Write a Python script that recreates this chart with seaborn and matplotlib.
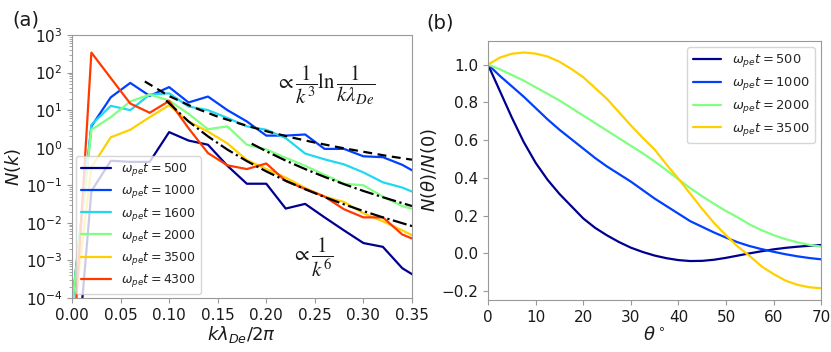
import numpy as np
import matplotlib
matplotlib.use("Agg")
import matplotlib.pyplot as plt
import seaborn as sns

# ---- panel (a): spectra N(k) ----
k = [0.00, 0.02, 0.04, 0.06, 0.08, 0.10, 0.12, 0.14, 0.16, 0.18,
     0.20, 0.22, 0.24, 0.26, 0.28, 0.30, 0.32, 0.34, 0.36]
N500 = [5e-8, 0.07, 0.45, 0.42, 0.42, 2.6, 1.55, 1.2, 0.33, 0.11,
        0.11, 0.024, 0.032, 0.014, 0.0063, 0.0029, 0.0023, 0.00062, 0.0003]
N1000 = [6e-5, 3.7, 22, 53, 24, 41, 16, 23, 10, 5.0,
         2.1, 2.1, 2.25, 0.93, 0.93, 0.59, 0.56, 0.35, 0.18]
N1600 = [5e-5, 4.1, 13, 10, 26, 28, 12.5, 10, 6.2, 3.7,
         3.0, 1.8, 0.7, 0.49, 0.36, 0.22, 0.12, 0.087, 0.053]
N2000 = [6e-5, 3.0, 6.5, 17, 26, 18, 8, 3.1, 3.7, 1.2,
         0.9, 0.54, 0.33, 0.19, 0.11, 0.10, 0.05, 0.028, 0.02]
N3500 = [1.4e-5, 0.3, 1.9, 3.0, 6.5, 13.5, 5.0, 2.7, 1.3, 0.47,
         0.27, 0.16, 0.085, 0.05, 0.036, 0.018, 0.011, 0.0063, 0.0035]
N4300 = [1e-6, 340, 71, 15, 8.5, 17.5, 3.3, 0.72, 0.34, 0.27,
         0.38, 0.13, 0.08, 0.05, 0.023, 0.014, 0.014, 0.0049, 0.003]
times_a = [500, 1000, 1600, 2000, 3500, 4300]

# guide lines
k_log = [0.075, 0.10, 0.125, 0.15, 0.175, 0.20, 0.225, 0.25, 0.275, 0.30, 0.325, 0.35]
N_log = [58, 23.7, 11.9, 6.7, 4.2, 2.75, 1.9, 1.37, 1.02, 0.78, 0.60, 0.48]
k_k6a = [0.097, 0.12, 0.14, 0.16, 0.18, 0.20, 0.22, 0.24, 0.26, 0.28, 0.30, 0.32, 0.35]
N_k6a = [18.0, 5.0, 2.0, 0.89, 0.44, 0.234, 0.132, 0.0785, 0.0486, 0.0311, 0.0206, 0.014, 0.0082]
k_k6b = [0.185, 0.20, 0.22, 0.24, 0.26, 0.28, 0.30, 0.32, 0.35]
N_k6b = [1.28, 0.805, 0.454, 0.27, 0.167, 0.107, 0.0706, 0.048, 0.028]

# ---- panel (b): angular distribution ----
theta = [0, 2.5, 5, 7.5, 10, 12.5, 15, 17.5, 20, 22.5, 25, 27.5, 30, 32.5, 35,
         37.5, 40, 42.5, 45, 47.5, 50, 52.5, 55, 57.5, 60, 62.5, 65, 67.5, 70]
A500 = [1.0, 0.86, 0.72, 0.59, 0.48, 0.39, 0.315, 0.25, 0.185, 0.135, 0.095, 0.06, 0.03, 0.007, -0.012,
        -0.026, -0.036, -0.041, -0.040, -0.034, -0.024, -0.012, 0.0, 0.011, 0.021, 0.029, 0.035, 0.040, 0.044]
A1000 = [1.0, 0.94, 0.885, 0.83, 0.77, 0.71, 0.655, 0.605, 0.555, 0.505, 0.46, 0.42, 0.38, 0.335, 0.29,
         0.25, 0.21, 0.17, 0.14, 0.11, 0.083, 0.058, 0.038, 0.022, 0.008, -0.005, -0.016, -0.025, -0.032]
A2000 = [1.0, 0.975, 0.945, 0.915, 0.88, 0.845, 0.81, 0.77, 0.73, 0.69, 0.65, 0.61, 0.57, 0.53, 0.487,
         0.44, 0.392, 0.345, 0.302, 0.262, 0.224, 0.19, 0.152, 0.122, 0.096, 0.075, 0.058, 0.045, 0.035]
A3500 = [1.0, 1.037, 1.057, 1.064, 1.058, 1.043, 1.015, 0.977, 0.933, 0.876, 0.818, 0.748, 0.678, 0.612, 0.55,
         0.47, 0.395, 0.315, 0.235, 0.16, 0.095, 0.035, -0.015, -0.07, -0.11, -0.145, -0.167, -0.18, -0.185]
times_b = [500, 1000, 2000, 3500]

colors = {500: '#000090', 1000: '#0040ff', 1600: '#20d8f0',
          2000: '#80ff80', 3500: '#ffd000', 4300: '#ff3a00'}

sns.set_style("ticks")
plt.rcParams.update({
    'axes.edgecolor': '0.6',
    'xtick.color': '0.6', 'ytick.color': '0.6',
    'xtick.labelcolor': '0.1', 'ytick.labelcolor': '0.1',
    'axes.labelcolor': '0.1',
})
plt.rcParams['font.family'] = ['DejaVu Sans']

fig = plt.figure(figsize=(8.31, 3.52), dpi=100)
ax1 = fig.add_axes([0.0866, 0.1534, 0.4092, 0.7472])
ax2 = fig.add_axes([0.5872, 0.1477, 0.4011, 0.7367])

# (a)
series_a = [N500, N1000, N1600, N2000, N3500, N4300]
for t, N in zip(times_a, series_a):
    sns.lineplot(x=k, y=N, ax=ax1, color=colors[t], lw=1.6,
                 label=r'$\omega_{pe}t = %d$' % t)
sns.lineplot(x=k_log, y=N_log, ax=ax1, color='k', lw=1.6, linestyle=(0, (4, 2.5)))
sns.lineplot(x=k_k6a, y=N_k6a, ax=ax1, color='k', lw=1.6, linestyle='-.')
sns.lineplot(x=k_k6b, y=N_k6b, ax=ax1, color='k', lw=1.6, linestyle='-.')
ax1.set_yscale('log')
ax1.set_xlim(0, 0.35)
ax1.set_ylim(1e-4, 1e3)
ax1.set_xticks(np.arange(0, 0.351, 0.05))
ax1.tick_params(labelsize=11)
ax1.set_xlabel(r'$k\lambda_{De}/2\pi$', fontsize=13, labelpad=1)
ax1.set_ylabel(r'$N(k)$', fontsize=13, labelpad=2)
ax1.legend(loc='lower left', fontsize=9, labelspacing=0.42,
           borderaxespad=0.3, handlelength=2.4)
ax1.text(0.745, 0.81, r'$\propto\dfrac{1}{k^3}\ln\dfrac{1}{k\lambda_{De}}$',
         transform=ax1.transAxes, ha='center', va='center',
         fontsize=15, math_fontfamily='stix', color='0.1')
ax1.text(0.705, 0.155, r'$\propto\dfrac{1}{k^6}$',
         transform=ax1.transAxes, ha='center', va='center',
         fontsize=15, math_fontfamily='stix', color='0.1')

# (b)
series_b = [A500, A1000, A2000, A3500]
for t, A in zip(times_b, series_b):
    sns.lineplot(x=theta, y=A, ax=ax2, color=colors[t], lw=1.6,
                 label=r'$\omega_{pe}t = %d$' % t)
ax2.set_xlim(0, 70)
ax2.set_yticks(np.arange(-0.2, 1.01, 0.2))
ax2.tick_params(labelsize=11)
ax2.set_xlabel(r'$\theta^\circ$', fontsize=13, labelpad=1)
ax2.set_ylabel(r'$N(\theta)/N(0)$', fontsize=13, labelpad=2)
ax2.legend(loc='upper right', fontsize=9.4, labelspacing=0.45, handlelength=2.2)

fig.text(0.031, 0.943, '(a)', fontsize=14, ha='center', va='center', color='0.1')
fig.text(0.530, 0.935, '(b)', fontsize=14, ha='center', va='center', color='0.1')

fig.savefig('out.png', dpi=100)
